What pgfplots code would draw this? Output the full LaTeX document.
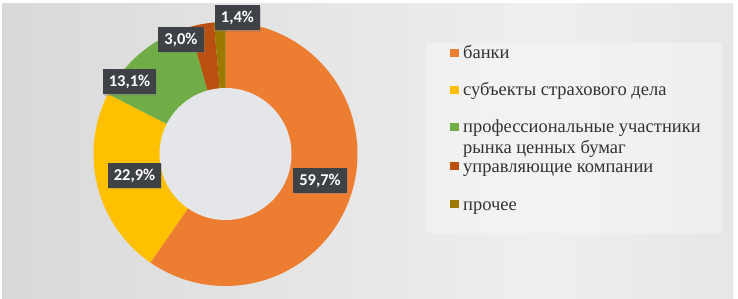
\documentclass[border=0pt]{standalone}
\usepackage{fontspec}
\setmainfont{Liberation Serif}
\newfontfamily\legfont{Liberation Serif}
\newfontfamily\lblfont{Carlito}
\usepackage{pgfplots}
\pgfplotsset{compat=1.18}
\usetikzlibrary{shadows}
\definecolor{cA}{HTML}{ED7D31}
\definecolor{cB}{HTML}{FFC000}
\definecolor{cC}{HTML}{70AD47}
\definecolor{cD}{HTML}{B9500F}
\definecolor{cE}{HTML}{9C7A00}
\definecolor{lblcol}{HTML}{3E4146}
\definecolor{holecol}{HTML}{E4E6E9}
\definecolor{legtext}{HTML}{333333}
\definecolor{bg0}{HTML}{C2C2C2}
\definecolor{bg1}{HTML}{D3D3D3}
\definecolor{bg2}{HTML}{E2E2E2}
\definecolor{bg3}{HTML}{EFEFEF}
\definecolor{bg4}{HTML}{DFDFDF}
\definecolor{bg5}{HTML}{C0C0C0}
\pgfdeclarehorizontalshading{bgshade}{100bp}{color(0bp)=(bg0); color(14bp)=(bg1); color(40bp)=(bg2); color(62bp)=(bg3); color(88bp)=(bg4); color(100bp)=(bg5)}
% data (shares, %)
\def\vA{59.7}\def\vB{22.9}\def\vC{13.1}\def\vD{3.0}\def\vE{1.4}
\pgfmathsetmacro\tot{\vA+\vB+\vC+\vD+\vE}
\pgfmathsetmacro\eA{\vA/\tot*360}
\pgfmathsetmacro\eB{\eA+\vB/\tot*360}
\pgfmathsetmacro\eC{\eB+\vC/\tot*360}
\pgfmathsetmacro\eD{\eC+\vD/\tot*360}
\def\eE{360}
\def\cx{225.5}\def\cy{154}\def\R{132}
\begin{document}%
\begin{tikzpicture}[
  lbl/.style={fill=lblcol,text=white,font=\lblfont\bfseries\fontsize{16.5}{18}\selectfont,
    inner xsep=6pt,inner ysep=0pt,minimum height=25pt,
    drop shadow={opacity=0.35,shadow xshift=1.2pt,shadow yshift=-1.2pt}},
  leg/.style={anchor=base west,inner sep=0pt,font=\legfont\fontsize{18.5}{21}\selectfont,text=legtext}]
\begin{axis}[width=738pt,height=299pt,scale only axis,
  xmin=0,xmax=738,ymin=0,ymax=299,y dir=reverse,hide axis,clip=false]
\fill[white] (axis cs:0,0) rectangle (axis cs:738,299);
\shade[shading=bgshade] (axis cs:2,4) rectangle (axis cs:733,299);
\fill[white,opacity=0.3] (axis cs:426,43) rectangle (axis cs:722,233);
\addplot[draw=none,fill=cA,domain=0:\eA,samples=90] ({\cx+\R*sin(x)},{\cy-\R*cos(x)}) -- (axis cs:\cx,\cy) -- cycle;
\addplot[draw=none,fill=cB,domain=\eA:\eB,samples=40] ({\cx+\R*sin(x)},{\cy-\R*cos(x)}) -- (axis cs:\cx,\cy) -- cycle;
\addplot[draw=none,fill=cC,domain=\eB:\eC,samples=30] ({\cx+\R*sin(x)},{\cy-\R*cos(x)}) -- (axis cs:\cx,\cy) -- cycle;
\addplot[draw=none,fill=cD,domain=\eC:\eD,samples=10] ({\cx+\R*sin(x)},{\cy-\R*cos(x)}) -- (axis cs:\cx,\cy) -- cycle;
\addplot[draw=none,fill=cE,domain=\eD:\eE,samples=10] ({\cx+\R*sin(x)},{\cy-\R*cos(x)}) -- (axis cs:\cx,\cy) -- cycle;
\fill[holecol] (axis cs:\cx,\cy) circle[radius=66pt];
% data labels
\node[lbl] at (axis cs:320,180.5) {59,7\%};
\node[lbl] at (axis cs:134.5,175.5) {22,9\%};
\node[lbl] at (axis cs:129.5,82) {13,1\%};
\node[lbl] at (axis cs:181,39.5) {3,0\%};
\node[lbl] at (axis cs:237.5,18) {1,4\%};
% legend
\fill[cA] (axis cs:450,49) rectangle (axis cs:459,57);
\fill[cB] (axis cs:450,86) rectangle (axis cs:459,94);
\fill[cC] (axis cs:450,123) rectangle (axis cs:459,131);
\fill[cD] (axis cs:450,162) rectangle (axis cs:459,170);
\fill[cE] (axis cs:450,200) rectangle (axis cs:459,208);
\node[leg] at (axis cs:463,59) {банки};
\node[leg] at (axis cs:463,96) {субъекты страхового дела};
\node[leg] at (axis cs:463,133) {профессиональные участники};
\node[leg] at (axis cs:463,154) {рынка ценных бумаг};
\node[leg] at (axis cs:463,172) {управляющие компании};
\node[leg] at (axis cs:463,210) {прочее};
\end{axis}
\end{tikzpicture}%
\end{document}
